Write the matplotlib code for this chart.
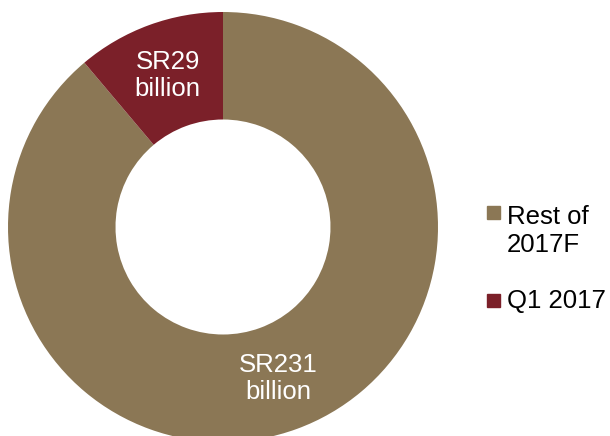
import numpy as np
import matplotlib.pyplot as plt
from matplotlib.patches import Rectangle

plt.rcParams["font.family"] = ["Liberation Sans", "DejaVu Sans"]

# SR billions, Q1 actual vs remainder of the 2017 forecast
categories = ["Rest of\n2017F", "Q1 2017"]
values = [231, 29]
value_labels = ["SR231\nbillion", "SR29\nbillion"]
colors = ["#8B7755", "#7B2029"]

W, H = 610, 436
fig = plt.figure(figsize=(W / 100, H / 100), dpi=100)

# donut centre at (223, 227) px from top-left, outer radius 215 px
cx, cy, R = 223, H - 227, 215
ax = fig.add_axes([(cx - R) / W, (cy - R) / H, 2 * R / W, 2 * R / H])
wedges, _ = ax.pie(values, colors=colors, startangle=90, counterclock=False,
                   radius=1.0, wedgeprops=dict(width=0.5, linewidth=0))
ax.set_xlim(-1, 1)
ax.set_ylim(-1, 1)
ax.set_aspect("equal")
ax.axis("off")

for w, lab in zip(wedges, value_labels):
    ang = np.deg2rad((w.theta1 + w.theta2) / 2)
    ax.text(0.75 * np.cos(ang), 0.75 * np.sin(ang), lab, color="white",
            fontsize=18.5, ha="center", va="center", linespacing=1.2)

# legend drawn by hand so the swatch sits on the first text line
swatch_y = [213, 300]
text_base = [252, 308]  # baseline of each label's last line, px from top
for sy, ty, cat, col in zip(swatch_y, text_base, categories, colors):
    fig.patches.append(Rectangle((487 / W, (H - sy - 6.5) / H), 13 / W, 13 / H,
                                 transform=fig.transFigure, color=col))
    fig.text(507 / W, (H - ty) / H, cat, fontsize=18.5, ha="left",
             va="baseline", linespacing=1.2, transform=fig.transFigure)

fig.savefig("out.png", dpi=100)
